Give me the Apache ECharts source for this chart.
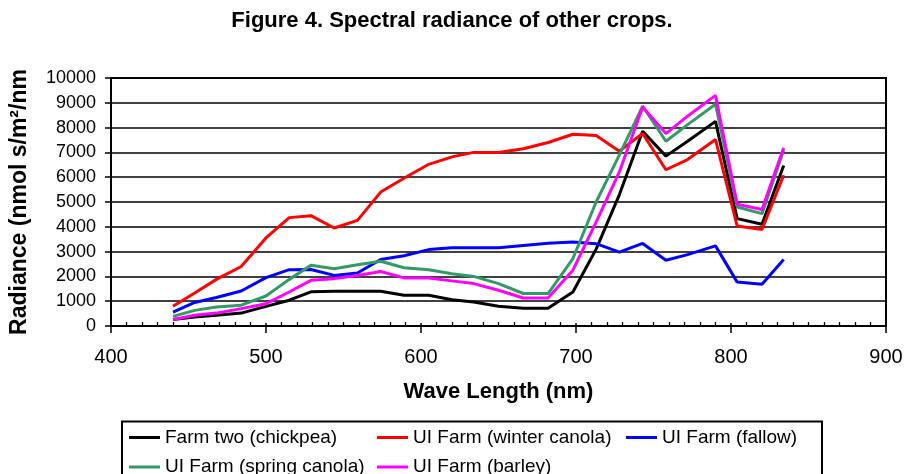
<!DOCTYPE html>
<html>
<head>
<meta charset="utf-8">
<script src="https://cdn.jsdelivr.net/npm/echarts@6/dist/echarts.min.js"></script>
<style>
  html, body { margin: 0; padding: 0; background: #fff; }
  #chart { width: 917px; height: 474px; }
</style>
</head>
<body>
<div id="chart"></div>
<script>
// wavelengths (nm) of the measured bands
const waveLengths = [440, 454, 468, 484, 500, 515, 529, 544, 559, 574, 589, 605, 620, 634, 650, 666, 682, 698, 713, 728, 743, 758, 772, 790, 804, 820, 834]

// radiance per crop
const chickpea = [260, 360, 430, 520, 790, 1040, 1380, 1400, 1400, 1400, 1240, 1240, 1060, 970, 800, 720, 720, 1370, 3100, 5300, 7850, 6850, 7450, 8250, 4330, 4100, 6470]
const winterCanola = [800, 1330, 1880, 2400, 3550, 4370, 4450, 3950, 4260, 5400, 5960, 6520, 6820, 7000, 7000, 7150, 7400, 7730, 7680, 7050, 7760, 6300, 6710, 7520, 4030, 3890, 6080]
const fallow = [560, 950, 1150, 1410, 1950, 2270, 2280, 2040, 2140, 2680, 2830, 3080, 3160, 3160, 3160, 3250, 3340, 3390, 3320, 2980, 3330, 2650, 2880, 3230, 1770, 1680, 2680]
const springCanola = [390, 630, 770, 840, 1210, 1880, 2450, 2310, 2470, 2610, 2350, 2270, 2110, 2000, 1710, 1310, 1310, 2720, 5000, 6900, 8870, 7450, 8120, 8940, 4800, 4530, 7100]
const barley = [260, 430, 520, 700, 900, 1370, 1840, 1910, 2040, 2200, 1940, 1940, 1820, 1710, 1440, 1130, 1130, 2250, 4190, 6210, 8830, 7760, 8460, 9300, 4910, 4700, 7190]

const seriesNames = ['Farm two (chickpea)', 'UI Farm (winter canola)', 'UI Farm (fallow)', 'UI Farm (spring canola)', 'UI Farm (barley)']
const seriesValues = [chickpea, winterCanola, fallow, springCanola, barley]
const seriesColors = ['#000000', '#ff0000', '#0000ff', '#339966', '#ff00ff']

// tick labels
const xTicks = [400, 500, 600, 700, 800, 900]
const yTicks = [0, 1000, 2000, 3000, 4000, 5000, 6000, 7000, 8000, 9000, 10000]

const font = 'Liberation Sans, Arial, sans-serif'
const myChart = echarts.init(document.getElementById('chart'))

// excel style legend: fixed columns, two rows
const legendSpots = [[129, 427.5], [377, 427.5], [626, 427.5], [129, 457], [377, 457]]
const legends = seriesNames.map((name, i) => ({
  data: [name],
  left: legendSpots[i][0],
  top: legendSpots[i][1],
  icon: 'rect',
  itemWidth: 31,
  itemHeight: 3,
  padding: 0,
  selectedMode: false,
  textStyle: { fontFamily: font, fontSize: 19, color: '#000', lineHeight: 20 }
}))

const option = {
  animation: false,
  backgroundColor: '#fff',
  title: {
    text: 'Figure 4. Spectral radiance of other crops.',
    left: 447,
    top: 5,
    textAlign: 'center',
    textStyle: { fontFamily: font, fontSize: 22, fontWeight: 'bold', color: '#000' }
  },
  grid: {
    left: 110,
    top: 78,
    width: 776,
    height: 248,
    show: true,
    borderColor: '#000',
    borderWidth: 2,
    backgroundColor: 'transparent'
  },
  legend: legends,
  xAxis: [
    {
      type: 'value',
      min: xTicks[0],
      max: xTicks[xTicks.length - 1],
      interval: xTicks[1] - xTicks[0],
      name: 'Wave Length (nm)',
      nameLocation: 'middle',
      nameGap: 55,
      nameTextStyle: { fontFamily: font, fontSize: 22, fontWeight: 'bold', color: '#000' },
      axisLine: { lineStyle: { color: '#000', width: 2 } },
      axisTick: { inside: true, length: 3, lineStyle: { color: '#000', width: 1.5 } },
      minorTick: { show: true, splitNumber: 10, length: 4, lineStyle: { color: '#000', width: 1.3 } },
      axisLabel: { fontFamily: font, fontSize: 20, color: '#000', margin: 21 },
      splitLine: { show: false }
    },
    {
      // only the downward part of the major ticks
      type: 'value',
      position: 'top',
      offset: -248,
      min: xTicks[0],
      max: xTicks[xTicks.length - 1],
      interval: xTicks[1] - xTicks[0],
      axisLine: { show: false },
      axisTick: { inside: true, length: 7, lineStyle: { color: '#000', width: 1.5 } },
      axisLabel: { show: false },
      splitLine: { show: false }
    }
  ],
  yAxis: {
    type: 'value',
    min: yTicks[0],
    max: yTicks[yTicks.length - 1],
    interval: yTicks[1] - yTicks[0],
    name: 'Radiance (nmol s/m²/nm',
    nameLocation: 'middle',
    nameGap: 80,
    nameTextStyle: { fontFamily: font, fontSize: 23, fontWeight: 'bold', color: '#000' },
    axisLine: { show: true, lineStyle: { color: '#000', width: 2 } },
    axisTick: { show: true, length: 6, lineStyle: { color: '#000', width: 1.5 } },
    axisLabel: { fontFamily: font, fontSize: 18, color: '#000', margin: 15, formatter: v => String(v) },
    splitLine: { lineStyle: { color: '#000', width: 1.5 } }
  },
  graphic: [
    {
      // legend frame
      type: 'rect',
      silent: true,
      shape: { x: 122, y: 421.5, width: 700, height: 80 },
      style: { fill: 'none', stroke: '#000', lineWidth: 2 }
    }
  ],
  series: seriesNames.map((name, i) => ({
    name: name,
    type: 'line',
    xAxisIndex: 0,
    symbol: 'none',
    color: seriesColors[i],
    lineStyle: { width: 3, color: seriesColors[i] },
    data: waveLengths.map((w, j) => [w, seriesValues[i][j]])
  }))
}

myChart.setOption(option)
</script>
</body>
</html>
